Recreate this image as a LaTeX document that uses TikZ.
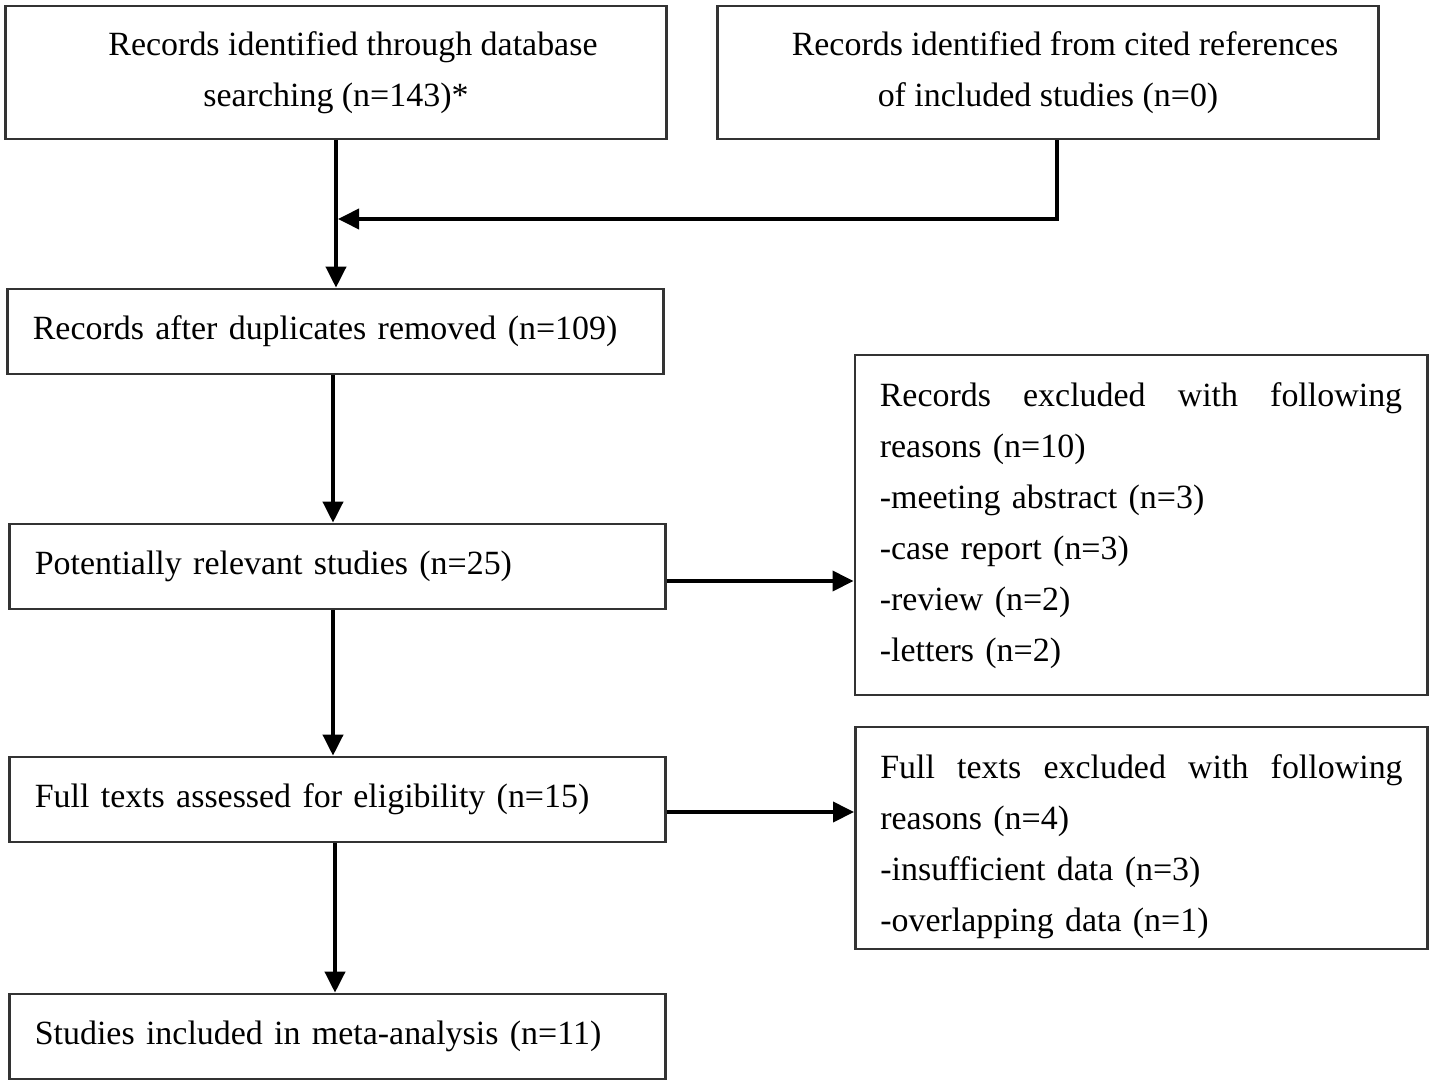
\documentclass[tikz,border=0pt]{standalone}
\usepackage{fontspec}
\setmainfont{Liberation Serif}
\usetikzlibrary{arrows.meta}
\definecolor{boxline}{HTML}{333333}
\begin{document}
\begin{tikzpicture}[x=0.01cm,y=-0.01cm,
  every node/.style={font=\fontsize{9.65pt}{14.5pt}\selectfont},
  cbox/.style={draw=boxline,line width=0.75pt,align=center,inner sep=0pt,minimum width=6.60cm,minimum height=1.33cm},
  lbox/.style={draw=boxline,line width=0.75pt,align=left,inner ysep=0pt,inner xsep=0.25cm,text width=6.05cm,minimum height=0.85cm},
  rbox/.style={draw=boxline,line width=0.75pt,inner sep=0pt,minimum width=5.72cm},
  jtext/.style={align=left,inner sep=0pt,text width=5.22cm},
  arr/.style={line width=1.1pt,-{Triangle[length=0.21cm,width=0.2cm]}}
]
\useasboundingbox (0,0) rectangle (1433,1085);
\node[cbox] (b1) at (336,72.5) {\hspace*{0.34cm}Records identified through database\\searching (n=143)*};
\node[cbox] (b2) at (1048,72.5) {\hspace*{0.34cm}Records identified from cited references\\of included studies (n=0)};
\node[lbox,minimum width=6.55cm] (b3) at (335.5,331.5) {Records after duplicates removed (n=109)};
\node[lbox] (b4) at (337.5,566.5) {Potentially relevant studies (n=25)};
\node[lbox] (b5) at (337.5,799.5) {Full texts assessed for eligibility (n=15)};
\node[lbox] (b6) at (337.5,1036.5) {Studies included in meta-analysis (n=11)};
\node[rbox,minimum height=3.40cm] (b7) at (1141,525) {};
\node[jtext] (b7t) at ([yshift=-0.01cm]b7.center) {Records\hfill excluded\hfill with\hfill following\\
reasons (n=10)\\
-meeting abstract (n=3)\\
-case report (n=3)\\
-review (n=2)\\
-letters (n=2)};
\node[rbox,minimum height=2.22cm] (b8) at (1141.5,838) {};
\node[jtext] (b8t) at ([yshift=-0.085cm]b8.center) {Full\hfill texts\hfill excluded\hfill with\hfill following\\
reasons (n=4)\\
-insufficient data (n=3)\\
-overlapping data (n=1)};
\coordinate (j) at (338,219);
\draw[arr] (b1.south) -- (b1.south |- b3.north);
\draw[arr] ([xshift=0.09cm]b2.south) |- (j);
\draw[arr] ([xshift=-0.025cm]b3.south) -- ([xshift=-0.025cm]b3.south |- b4.north);
\draw[arr] ([xshift=-0.045cm]b4.south) -- ([xshift=-0.045cm]b4.south |- b5.north);
\draw[arr] ([xshift=-0.025cm]b5.south) -- ([xshift=-0.025cm]b5.south |- b6.north);
\draw[arr] ([yshift=-0.145cm]b4.east) -- ([yshift=-0.145cm]b4.east -| b7.west);
\draw[arr] ([yshift=-0.125cm]b5.east) -- ([yshift=-0.125cm]b5.east -| b8.west);
\end{tikzpicture}
\end{document}
